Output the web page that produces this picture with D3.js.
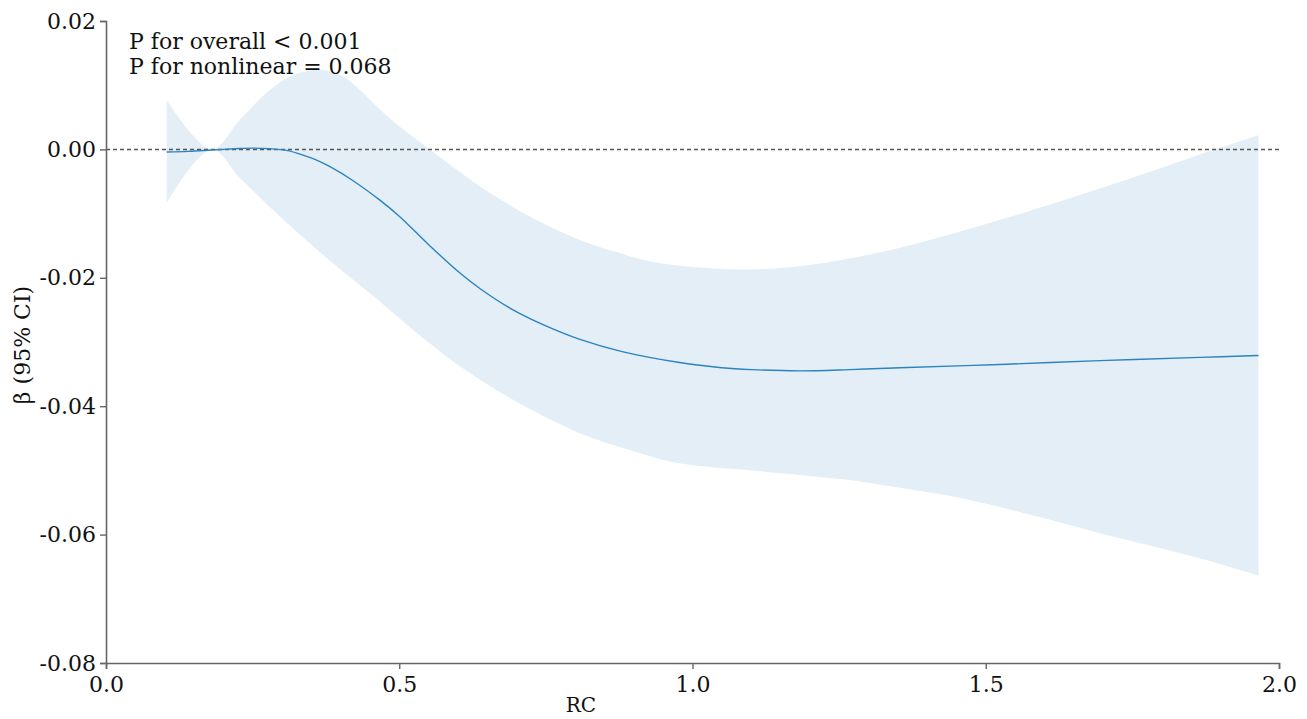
<!DOCTYPE html>
<html>
<head>
<meta charset="utf-8">
<script src="https://cdn.jsdelivr.net/npm/d3@7"></script>
<style>
  html, body { margin: 0; padding: 0; background: #fff; }
  svg { display: block; }
  text { font-family: "DejaVu Serif", serif; fill: #111; }
</style>
</head>
<body>
<svg id="chart" width="1307" height="719"></svg>
<script>
// ---- data ----
const xCenter = [0.1035, 0.14, 0.18, 0.22, 0.25, 0.28, 0.31, 0.336, 0.36, 0.382, 0.42, 0.467, 0.50, 0.552, 0.604, 0.638, 0.694, 0.75, 0.808, 0.88, 0.978, 1.05, 1.10, 1.183, 1.268, 1.354, 1.524, 1.695, 1.865, 1.965];
const center  = [-0.0004, -0.0003, -0.0001, 0.0001, 0.0002, 0.0001, -0.0002, -0.0009, -0.0017, -0.0027, -0.0048, -0.0079, -0.0104, -0.0150, -0.0193, -0.0217, -0.0250, -0.0275, -0.0296, -0.0315, -0.0332, -0.0340, -0.0343, -0.0345, -0.0343, -0.0340, -0.0335, -0.0329, -0.0324, -0.0321];

const xUpper  = [0.1035, 0.18, 0.23, 0.28, 0.32, 0.365, 0.40, 0.435, 0.467, 0.50, 0.552, 0.60, 0.638, 0.68, 0.723, 0.808, 0.87, 0.93, 1.0, 1.10, 1.183, 1.268, 1.354, 1.44, 1.524, 1.61, 1.695, 1.78, 1.865, 1.965];
const upper   = [0.0077, 0.0000, 0.0048, 0.0093, 0.0116, 0.0124, 0.0116, 0.0091, 0.0062, 0.0036, 0.0000, -0.0033, -0.0058, -0.0082, -0.0105, -0.0141, -0.0160, -0.0175, -0.0183, -0.0187, -0.0182, -0.0170, -0.0153, -0.0132, -0.0110, -0.0086, -0.0061, -0.0035, -0.0008, 0.0022];

const xLower  = [0.1035, 0.18, 0.23, 0.297, 0.38, 0.467, 0.53, 0.604, 0.694, 0.808, 0.90, 0.978, 1.10, 1.183, 1.268, 1.354, 1.44, 1.524, 1.61, 1.695, 1.78, 1.865, 1.965];
const lower   = [-0.0083, 0.0000, -0.0046, -0.0105, -0.0172, -0.0237, -0.0286, -0.0338, -0.0390, -0.0442, -0.0470, -0.0489, -0.0500, -0.0507, -0.0515, -0.0527, -0.0540, -0.0557, -0.0577, -0.0598, -0.0617, -0.0637, -0.0664];

const xTicks  = [0.0, 0.5, 1.0, 1.5, 2.0];
const yTicks  = [0.02, 0.00, -0.02, -0.04, -0.06, -0.08];
const annotations = ["P for overall < 0.001", "P for nonlinear = 0.068"];
const xLabel = "RC";
const yLabel = "β (95% CI)";

// ---- layout ----
const svg = d3.select("#chart");
const mLeft = 106, mRight = 1279, mTop = 21, mBottom = 663;

const x = d3.scaleLinear().domain([0, 2]).range([mLeft, mRight]);
const y = d3.scaleLinear().domain([-0.08, 0.02]).range([mBottom, mTop]);

const curve = d3.curveCatmullRom.alpha(0.5);

// CI band: upper edge forward, lower edge backward, closed
const upperPts = xUpper.map((v, i) => [x(v), y(upper[i])]);
const lowerPts = xLower.map((v, i) => [x(v), y(lower[i])]).reverse();
const lineGen = d3.line().curve(curve);
const bandPath = lineGen(upperPts) + "L" + lineGen(lowerPts).slice(1) + "Z";

svg.append("path")
  .attr("fill", "#e3eef6")
  .attr("d", bandPath);

// reference line at 0
svg.append("line")
  .attr("x1", x(0)).attr("x2", x(2))
  .attr("y1", y(0)).attr("y2", y(0))
  .attr("stroke", "#555")
  .attr("stroke-width", 1.5)
  .attr("stroke-dasharray", "4,3");

// fitted line
svg.append("path")
  .datum(xCenter.map((v, i) => [v, center[i]]))
  .attr("fill", "none")
  .attr("stroke", "#2b83c0")
  .attr("stroke-width", 1.4)
  .attr("d", d3.line()
    .x(d => x(d[0]))
    .y(d => y(d[1]))
    .curve(curve));

// axes
const xAxis = svg.append("g")
  .attr("transform", `translate(0,${mBottom})`)
  .call(d3.axisBottom(x).tickValues(xTicks).tickFormat(d3.format(".1f")).tickSizeOuter(0).tickSize(6));
const yAxis = svg.append("g")
  .attr("transform", `translate(${mLeft},0)`)
  .call(d3.axisLeft(y).tickValues(yTicks).tickFormat(d => d3.format(".2f")(d).replace("−", "-")).tickSizeOuter(0).tickSize(6));

[xAxis, yAxis].forEach(g => {
  g.select(".domain").attr("stroke", "#666").attr("stroke-width", 1.6);
  g.selectAll(".tick line").attr("stroke", "#666").attr("stroke-width", 1.4);
  g.selectAll(".tick text")
    .attr("font-family", "DejaVu Serif")
    .attr("font-size", 22)
    .attr("fill", "#111");
});
xAxis.selectAll(".tick text").attr("y", 9).attr("dy", "0.9em");
yAxis.selectAll(".tick text").attr("x", -10);

// axis labels
svg.append("text")
  .attr("x", 581).attr("y", 712)
  .attr("text-anchor", "middle")
  .attr("font-size", 20)
  .text(xLabel);

svg.append("text")
  .attr("transform", `translate(30,345) rotate(-90)`)
  .attr("text-anchor", "middle")
  .attr("font-size", 22)
  .text(yLabel);

// annotations
svg.selectAll("text.anno")
  .data(annotations)
  .enter().append("text")
  .attr("class", "anno")
  .attr("x", 129)
  .attr("y", (d, i) => 49 + i * 25)
  .attr("font-size", 22)
  .text(d => d);
</script>
</body>
</html>
